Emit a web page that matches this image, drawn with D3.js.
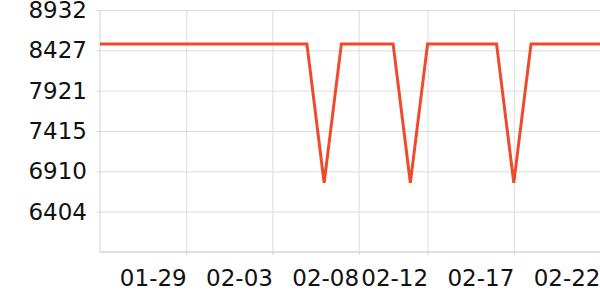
<!DOCTYPE html>
<html>
<head>
<meta charset="utf-8">
<script src="https://cdn.jsdelivr.net/npm/d3@7"></script>
<style>
  body { margin: 0; background: #fff; }
  svg { display: block; }
  .grid line { stroke: #dcdcdc; stroke-width: 1; }
  .axis text { font-family: "DejaVu Sans", sans-serif; font-size: 23px; fill: #111; }
</style>
</head>
<body>
<svg id="chart" width="600" height="300"></svg>
<script>
// daily categories
var dates = ["01-24", "01-25", "01-26", "01-27", "01-28", "01-29", "01-30", "01-31",
             "02-01", "02-02", "02-03", "02-04", "02-05", "02-06", "02-07", "02-08",
             "02-09", "02-10", "02-11", "02-12", "02-13", "02-14", "02-15", "02-16",
             "02-17", "02-18", "02-19", "02-20", "02-21", "02-22"];

var values = [8507, 8507, 8507, 8507, 8507, 8507, 8507, 8507,
              8507, 8507, 8507, 8507, 8507, 6765, 8507, 8507,
              8507, 8507, 6765, 8507, 8507, 8507, 8507, 8507,
              6765, 8507, 8507, 8507, 8507, 8507];

var xTicks = ["01-29", "02-03", "02-08", "02-12", "02-17", "02-22"];

// y range and tick spacing
var yMin = 5898.6,
    yMax = 8932.2,
    ySteps = 6;

var margin = {top: 10, right: 0, bottom: 48, left: 100},
    width = 600 - margin.left - margin.right,
    height = 300 - margin.top - margin.bottom;

var svg = d3.select("#chart");
var g = svg.append("g")
    .attr("transform", "translate(" + margin.left + "," + margin.top + ")");

var x = d3.scalePoint().domain(dates).range([0, width]);
var y = d3.scaleLinear().domain([yMin, yMax]).range([height, 0]);

var yTickVals = d3.range(ySteps + 1).map(function(i) {
    return yMin + i * (yMax - yMin) / ySteps;
});

// horizontal grid
g.append("g")
    .attr("class", "grid")
    .call(d3.axisLeft(y).tickValues(yTickVals.slice(1)).tickSize(-width).tickFormat(""))
    .call(function(s) { s.select(".domain").remove(); });

// vertical grid
g.append("g")
    .attr("class", "grid")
    .call(d3.axisBottom(x).tickValues(xTicks).tickSize(height).tickFormat(""))
    .call(function(s) { s.select(".domain").remove(); });

// y axis
var yAxis = g.append("g")
    .attr("class", "axis")
    .call(d3.axisLeft(y).tickValues(yTickVals.slice(1)).tickSize(3).tickPadding(10)
        .tickFormat(d3.format(".0f")));
yAxis.select(".domain").attr("stroke", "#d4d4d4").attr("d", "M0,0V" + height);
yAxis.selectAll(".tick line").attr("stroke", "#d4d4d4");

// x axis
var xAxis = g.append("g")
    .attr("class", "axis")
    .attr("transform", "translate(0," + height + ")")
    .call(d3.axisBottom(x).tickValues(xTicks).tickSize(3).tickPadding(10));
xAxis.select(".domain").attr("stroke", "#bdbdbd").attr("d", "M0,0H" + width);
xAxis.selectAll(".tick line").attr("stroke", "#d4d4d4");
xAxis.selectAll(".tick text")
    .style("text-anchor", "end")
    .attr("dy", "0.9em");

// line
var line = d3.line()
    .x(function(d, i) { return x(dates[i]); })
    .y(function(d) { return y(d); });

g.append("path")
    .datum(values)
    .attr("fill", "none")
    .attr("stroke", "#ef4a2b")
    .attr("stroke-width", 3)
    .attr("d", line);
</script>
</body>
</html>
